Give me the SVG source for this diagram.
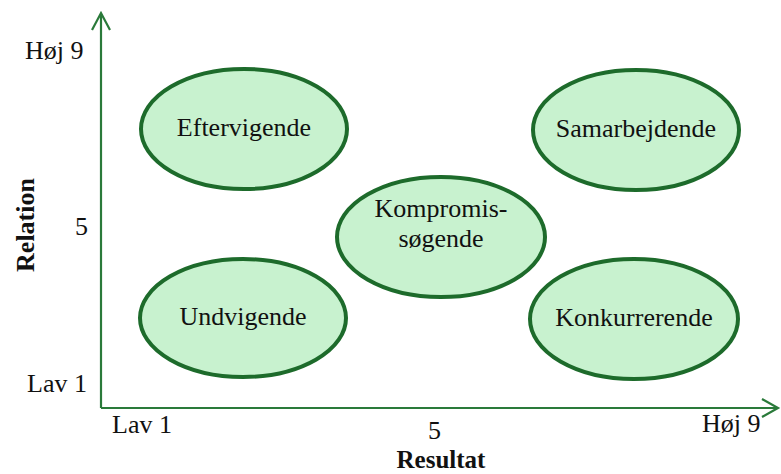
<svg xmlns="http://www.w3.org/2000/svg" width="781" height="474" viewBox="0 0 781 474">
  <style>
    .lbl { font-family: "Liberation Serif", "Times New Roman", serif; font-size: 26px; fill: #111; }
    .title { font-family: "Liberation Serif", "Times New Roman", serif; font-size: 26px; font-weight: bold; fill: #111; }
    .node ellipse { fill: #c8f2cf; stroke: #1d6b2b; stroke-width: 4; }
    .node text { font-family: "Liberation Serif", "Times New Roman", serif; font-size: 26px; fill: #111; text-anchor: middle; }
    .axis { stroke: #2a7a3a; stroke-width: 2.2; fill: none; }
  </style>
  <rect width="781" height="474" fill="#ffffff"/>

  <!-- axes -->
  <g id="connectors">
    <path class="axis" d="M101,408 V13 M92,30 L101,13 L110,30"/>
    <path class="axis" d="M101,408 H778 M762,399 L778,408 L762,417"/>
  </g>

  <!-- axis labels -->
  <text class="lbl" x="25" y="59">Høj 9</text>
  <text class="lbl" x="75" y="235">5</text>
  <text class="lbl" x="27" y="392">Lav 1</text>
  <text class="lbl" x="112" y="433">Lav 1</text>
  <text class="lbl" x="428" y="439">5</text>
  <text class="lbl" x="702" y="432">Høj 9</text>
  <text class="title" x="441" y="468" text-anchor="middle" style="font-size:25px">Resultat</text>
  <text class="title" transform="translate(34,225) rotate(-90)" text-anchor="middle">Relation</text>

  <!-- styles -->
  <g id="eftervigende" class="node">
    <ellipse cx="244" cy="129" rx="103" ry="60"/>
    <text x="244" y="136">Eftervigende</text>
  </g>
  <g id="samarbejdende" class="node">
    <ellipse cx="636" cy="130" rx="103" ry="60"/>
    <text x="636" y="137">Samarbejdende</text>
  </g>
  <g id="kompromissoegende" class="node">
    <ellipse cx="441" cy="237" rx="104" ry="60"/>
    <text x="441" y="217">Kompromis-</text>
    <text x="441" y="247">søgende</text>
  </g>
  <g id="undvigende" class="node">
    <ellipse cx="243" cy="318" rx="103" ry="59"/>
    <text x="243" y="325">Undvigende</text>
  </g>
  <g id="konkurrerende" class="node">
    <ellipse cx="634" cy="319" rx="104" ry="60"/>
    <text x="634" y="326">Konkurrerende</text>
  </g>
</svg>
